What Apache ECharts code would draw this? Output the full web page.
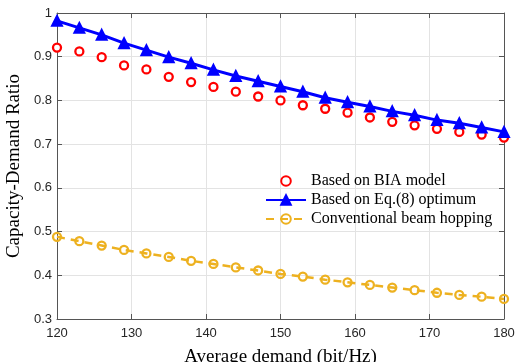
<!DOCTYPE html>
<html>
<head>
<meta charset="utf-8">
<script src="https://cdn.jsdelivr.net/npm/echarts@6/dist/echarts.min.js"></script>
<style>
  html, body {margin: 0; padding: 0; background: #fff;}
  #chart {width: 517px; height: 362px;}
</style>
</head>
<body>
<div id="chart"></div>
<script>
const demand = [120, 123, 126, 129, 132, 135, 138, 141, 144, 147, 150, 153, 156, 159, 162, 165, 168, 171, 174, 177, 180];
const biaModel = [0.921, 0.912, 0.899, 0.880, 0.871, 0.854, 0.842, 0.831, 0.820, 0.809, 0.800, 0.789, 0.781, 0.772, 0.761, 0.751, 0.743, 0.735, 0.728, 0.722, 0.715];
const eq8Optimum = [0.982, 0.966, 0.950, 0.931, 0.915, 0.899, 0.885, 0.870, 0.856, 0.844, 0.832, 0.820, 0.806, 0.796, 0.786, 0.775, 0.766, 0.755, 0.748, 0.738, 0.728];
const conventional = [0.488, 0.478, 0.468, 0.458, 0.450, 0.442, 0.433, 0.426, 0.418, 0.411, 0.403, 0.397, 0.390, 0.384, 0.378, 0.372, 0.366, 0.360, 0.355, 0.351, 0.346];
const seriesNames = ['Based on BIA model', 'Based on Eq.(8) optimum', 'Conventional beam hopping'];

const pair = vals => demand.map((d, i) => [d, vals[i]]);
const frameColor = '#555';
const labelColor = '#262626';
const sans = 'Liberation Sans, Arial, sans-serif';
const serif = 'Liberation Serif, Times New Roman, serif';

const frameAxis = (extra) => Object.assign({
  type: 'value',
  axisLine: {show: true, lineStyle: {color: frameColor, width: 1}},
  axisTick: {show: true, inside: true, length: 5, lineStyle: {color: frameColor}},
  axisLabel: {show: false},
  splitLine: {show: false}
}, extra);

const myChart = echarts.init(document.getElementById('chart'), null, {renderer: 'canvas'});
myChart.setOption({
  animation: false,
  backgroundColor: '#fff',
  grid: {left: 57, right: 13, top: 13, bottom: 43, outerBoundsMode: 'none'},
  legend: {
    orient: 'vertical',
    left: 265,
    top: 173,
    padding: 0,
    itemWidth: 40,
    itemHeight: 12,
    itemGap: 3,
    textStyle: {fontFamily: serif, fontSize: 16, color: '#000', lineHeight: 16},
    data: seriesNames
  },
  xAxis: [
    frameAxis({
      min: 120, max: 180, interval: 10,
      name: 'Average demand (bit/Hz)',
      nameLocation: 'middle',
      nameGap: 29,
      nameTextStyle: {fontFamily: serif, fontSize: 19, color: '#000'},
      axisLabel: {show: true, fontFamily: sans, fontSize: 13, color: labelColor, margin: 8},
      splitLine: {show: true, lineStyle: {color: '#e3e3e3'}}
    }),
    frameAxis({min: 120, max: 180, interval: 10, position: 'top'})
  ],
  yAxis: [
    frameAxis({
      min: 0.3, max: 1, interval: 0.1,
      name: 'Capacity-Demand Ratio',
      nameLocation: 'middle',
      nameGap: 26,
      nameTextStyle: {fontFamily: serif, fontSize: 19, color: '#000'},
      axisLabel: {show: true, fontFamily: sans, fontSize: 13, color: labelColor, margin: 5,
        formatter: v => String(Math.round(v * 10) / 10)},
      splitLine: {show: true, lineStyle: {color: '#e3e3e3'}}
    }),
    frameAxis({min: 0.3, max: 1, interval: 0.1, position: 'right'})
  ],
  series: [
    {
      name: seriesNames[0],
      type: 'line',
      data: pair(biaModel),
      symbol: 'circle',
      symbolSize: 8,
      itemStyle: {color: '#fff', borderColor: '#ff0000', borderWidth: 2.3},
      lineStyle: {opacity: 0, color: '#ff0000'},
      z: 3
    },
    {
      name: seriesNames[1],
      type: 'line',
      data: pair(eq8Optimum),
      symbol: 'triangle',
      symbolSize: 10,
      itemStyle: {color: '#0000ff', borderColor: '#0000ff', borderWidth: 2},
      lineStyle: {color: '#0000ff', width: 3},
      z: 4
    },
    {
      name: seriesNames[2],
      type: 'line',
      data: pair(conventional),
      symbol: 'circle',
      symbolSize: 8,
      itemStyle: {color: 'rgba(255,255,255,0)', borderColor: '#edb120', borderWidth: 2.3},
      lineStyle: {color: '#edb120', width: 2.5, type: [8, 6]},
      z: 3
    }
  ]
});
</script>
</body>
</html>
